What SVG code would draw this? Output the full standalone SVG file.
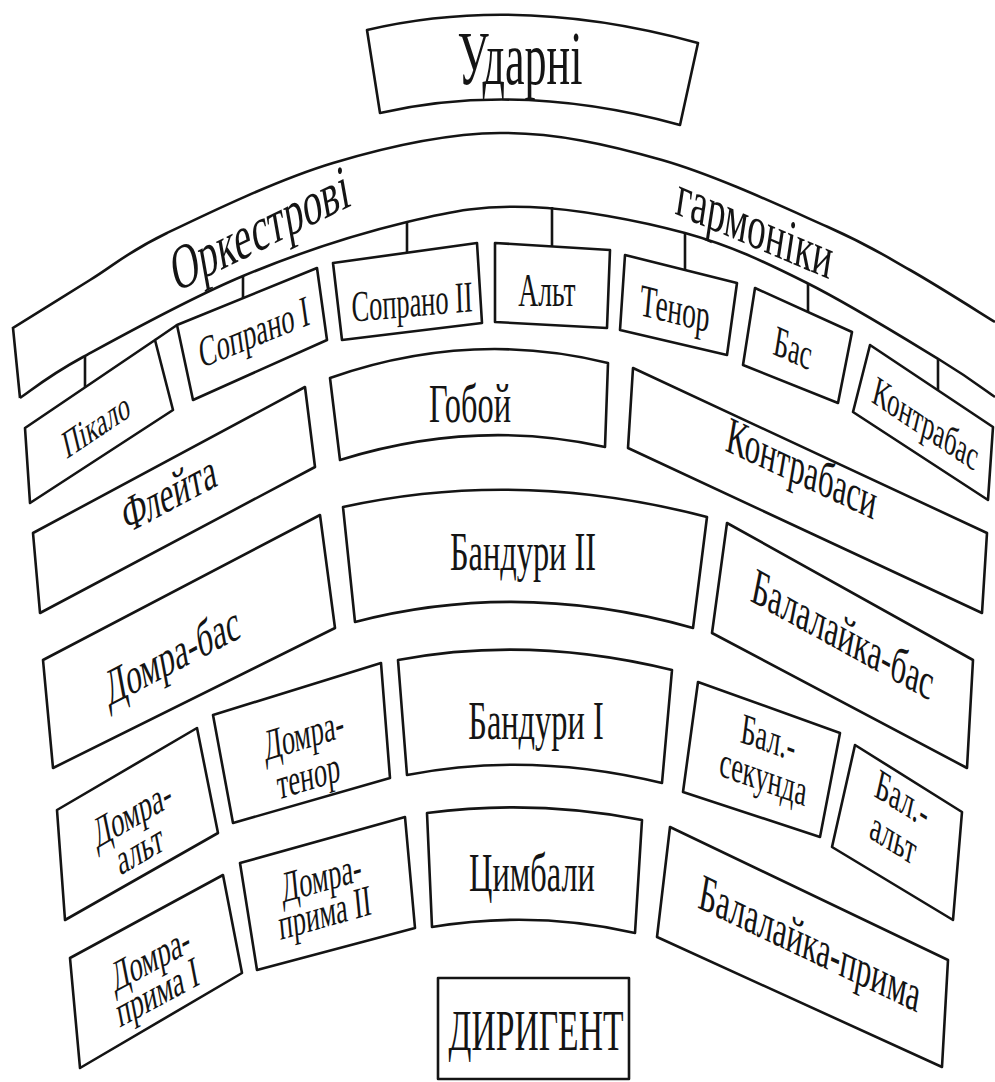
<svg xmlns="http://www.w3.org/2000/svg" width="995" height="1082" viewBox="0 0 995 1082">
<style>
.bx{fill:none;stroke:#141414;stroke-width:2.6;stroke-linejoin:round}
.ln{fill:none;stroke:#141414;stroke-width:2.6}
.t{font-family:"Liberation Serif","Times New Roman",serif;fill:#141414;text-anchor:middle;dominant-baseline:central}
</style>
<rect width="995" height="1082" fill="#fff"/>
<g id="udarni"><path class="bx" d="M367,30 Q520,-6 698,43 L680,125 Q520,81 380,113 Z"/><text class="t" font-size="76" transform="translate(520,58) scale(0.58,1)">Ударні</text></g>
<g id="harmoniky"><path class="ln" d="M20,398 L13,328 C25.8,320 64.3,295.8 90,280 C115.7,264.2 126.5,252.5 167,233 C207.5,213.5 277.5,179.7 333,163 C388.5,146.3 445.2,133.5 500,133 C554.8,132.5 607.3,144.3 662,160 C716.7,175.7 786.7,208.7 828,227 C869.3,245.3 882.2,254.2 910,270 C937.8,285.8 980.8,313.3 995,322"/>
<path class="ln" d="M20,398 C30.5,391.2 45.8,377.3 83,357 C120.2,336.7 189,298.5 243,276 C297,253.5 359.2,233.5 407,222 C454.8,210.5 483.7,205.2 530,207 C576.3,208.8 638.8,220.3 685,233 C731.2,245.7 764.5,261.8 807,283 C849.5,304.2 908.7,341 940,360 C971.3,379 985.8,390.8 995,397"/>
<text class="t" font-size="64" transform="translate(260,228) scale(0.6,1) rotate(-16.5)">Оркестрові</text>
<text class="t" font-size="62" transform="translate(755,226) scale(0.6,1) rotate(14.3)">гармоніки</text></g>
<g id="connectors">
<path class="ln" d="M85,356 V387 M243,276 V298 M407,222 V253 M552,207 V246 M685,233 V270 M808,283 V312 M938,359 V390 M155,340 L177,325"/>
</g>
<g id="pikalo"><path class="bx" d="M25,428 L155,340 L173,410 L30,503 Z"/><text class="t" font-size="40" transform="translate(96,425) scale(0.6,1) rotate(-22)">Пікало</text></g>
<g id="soprano1"><path class="bx" d="M177,325 L317,268 L327,340 L193,400 Z"/><text class="t" font-size="44" transform="translate(254,332) scale(0.6,1) rotate(-13.6)">Сопрано I</text></g>
<g id="soprano2"><path class="bx" d="M333,263 L477,243 L482,323 L342,340 Z"/><text class="t" font-size="44" transform="translate(412,302) scale(0.6,1) rotate(-3)">Сопрано II</text></g>
<g id="alt"><path class="bx" d="M495,243 L610,250 L607,328 L495,322 Z"/><text class="t" font-size="46" transform="translate(547,290) scale(0.6,1)">Альт</text></g>
<g id="tenor"><path class="bx" d="M625,255 L737,283 L727,355 L620,330 Z"/><text class="t" font-size="46" transform="translate(675,308) scale(0.6,1) rotate(8.5)">Тенор</text></g>
<g id="bas"><path class="bx" d="M755,288 L852,332 L838,403 L743,365 Z"/><text class="t" font-size="44" transform="translate(793,348) scale(0.6,1) rotate(15)">Бас</text></g>
<g id="kontrabas"><path class="bx" d="M870,345 L993,427 L988,500 L853,412 Z"/><text class="t" font-size="42" transform="translate(926,423) scale(0.6,1) rotate(22)">Контрабас</text></g>
<g id="fleita"><path class="bx" d="M33,533 L305,387 L315,467 L40,613 Z"/><text class="t" font-size="52" transform="translate(169,493) scale(0.6,1) rotate(-17.7)">Флейта</text></g>
<g id="goboi"><path class="bx" d="M330,378 Q470,329 608,363 L605,447 Q475,418 340,460 Z"/><text class="t" font-size="54" transform="translate(470,404) scale(0.6,1)">Гобой</text></g>
<g id="kontrabasy"><path class="bx" d="M633,368 L987,533 L982,613 L628,448 Z"/><text class="t" font-size="52" transform="translate(802,468) scale(0.6,1) rotate(15.6)">Контрабаси</text></g>
<g id="domra-bas"><path class="bx" d="M43,660 L320,515 L335,628 L53,768 Z"/><text class="t" font-size="52" transform="translate(172,655) scale(0.6,1) rotate(-17.4)">Домра-бас</text></g>
<g id="bandury2"><path class="bx" d="M343,507 Q520,468 707,517 L693,628 Q520,579 355,622 Z"/><text class="t" font-size="54" transform="translate(523,552) scale(0.6,1)">Бандури II</text></g>
<g id="balalaika-bas"><path class="bx" d="M727,523 L973,660 L967,768 L712,633 Z"/><text class="t" font-size="52" transform="translate(843,634) scale(0.6,1) rotate(18.4)">Балалайка-бас</text></g>
<g id="domra-alt"><path class="bx" d="M57,810 L197,728 L218,833 L65,920 Z"/><text class="t" font-size="44" transform="translate(136,831) scale(0.6,1) rotate(-19)"><tspan x="0" y="-19">Домра-</tspan><tspan x="0" y="19">альт</tspan></text></g>
<g id="domra-tenor"><path class="bx" d="M213,715 L381,663 L390,778 L233,823 Z"/><text class="t" font-size="44" transform="translate(306,755) scale(0.6,1) rotate(-10.4)"><tspan x="0" y="-21">Домра-</tspan><tspan x="0" y="21">тенор</tspan></text></g>
<g id="bandury1"><path class="bx" d="M398,660 Q530,635 672,670 L662,783 Q530,751 407,775 Z"/><text class="t" font-size="54" transform="translate(536,721) scale(0.6,1)">Бандури I</text></g>
<g id="bal-sekunda"><path class="bx" d="M698,682 L840,733 L820,837 L683,792 Z"/><text class="t" font-size="44" transform="translate(766,757) scale(0.6,1) rotate(12.2)"><tspan x="0" y="-20">Бал.-</tspan><tspan x="0" y="20">секунда</tspan></text></g>
<g id="bal-alt"><path class="bx" d="M855,745 L962,812 L953,920 L832,847 Z"/><text class="t" font-size="44" transform="translate(898,818) scale(0.6,1) rotate(20.6)"><tspan x="0" y="-21">Бал.-</tspan><tspan x="0" y="21">альт</tspan></text></g>
<g id="domra-pryma1"><path class="bx" d="M70,958 L223,875 L242,973 L80,1068 Z"/><text class="t" font-size="44" transform="translate(154,975) scale(0.6,1) rotate(-18)"><tspan x="0" y="-18">Домра-</tspan><tspan x="0" y="18">прима I</tspan></text></g>
<g id="domra-pryma2"><path class="bx" d="M240,863 L405,817 L415,928 L257,970 Z"/><text class="t" font-size="44" transform="translate(323,895) scale(0.6,1) rotate(-9.5)"><tspan x="0" y="-18">Домра-</tspan><tspan x="0" y="18">прима II</tspan></text></g>
<g id="tsymbaly"><path class="bx" d="M427,813 Q535,799 642,820 L635,933 Q535,910 432,927 Z"/><text class="t" font-size="54" transform="translate(532,873) scale(0.6,1)">Цимбали</text></g>
<g id="balalaika-pryma"><path class="bx" d="M670,827 L948,960 L942,1067 L657,937 Z"/><text class="t" font-size="52" transform="translate(810,943) scale(0.6,1) rotate(16)">Балалайка-прима</text></g>
<g id="dyrygent"><rect class="bx" x="438" y="978" width="191" height="101"/><text class="t" font-size="56" transform="translate(536,1031) scale(0.6,1)">ДИРИГЕНТ</text></g>
</svg>
